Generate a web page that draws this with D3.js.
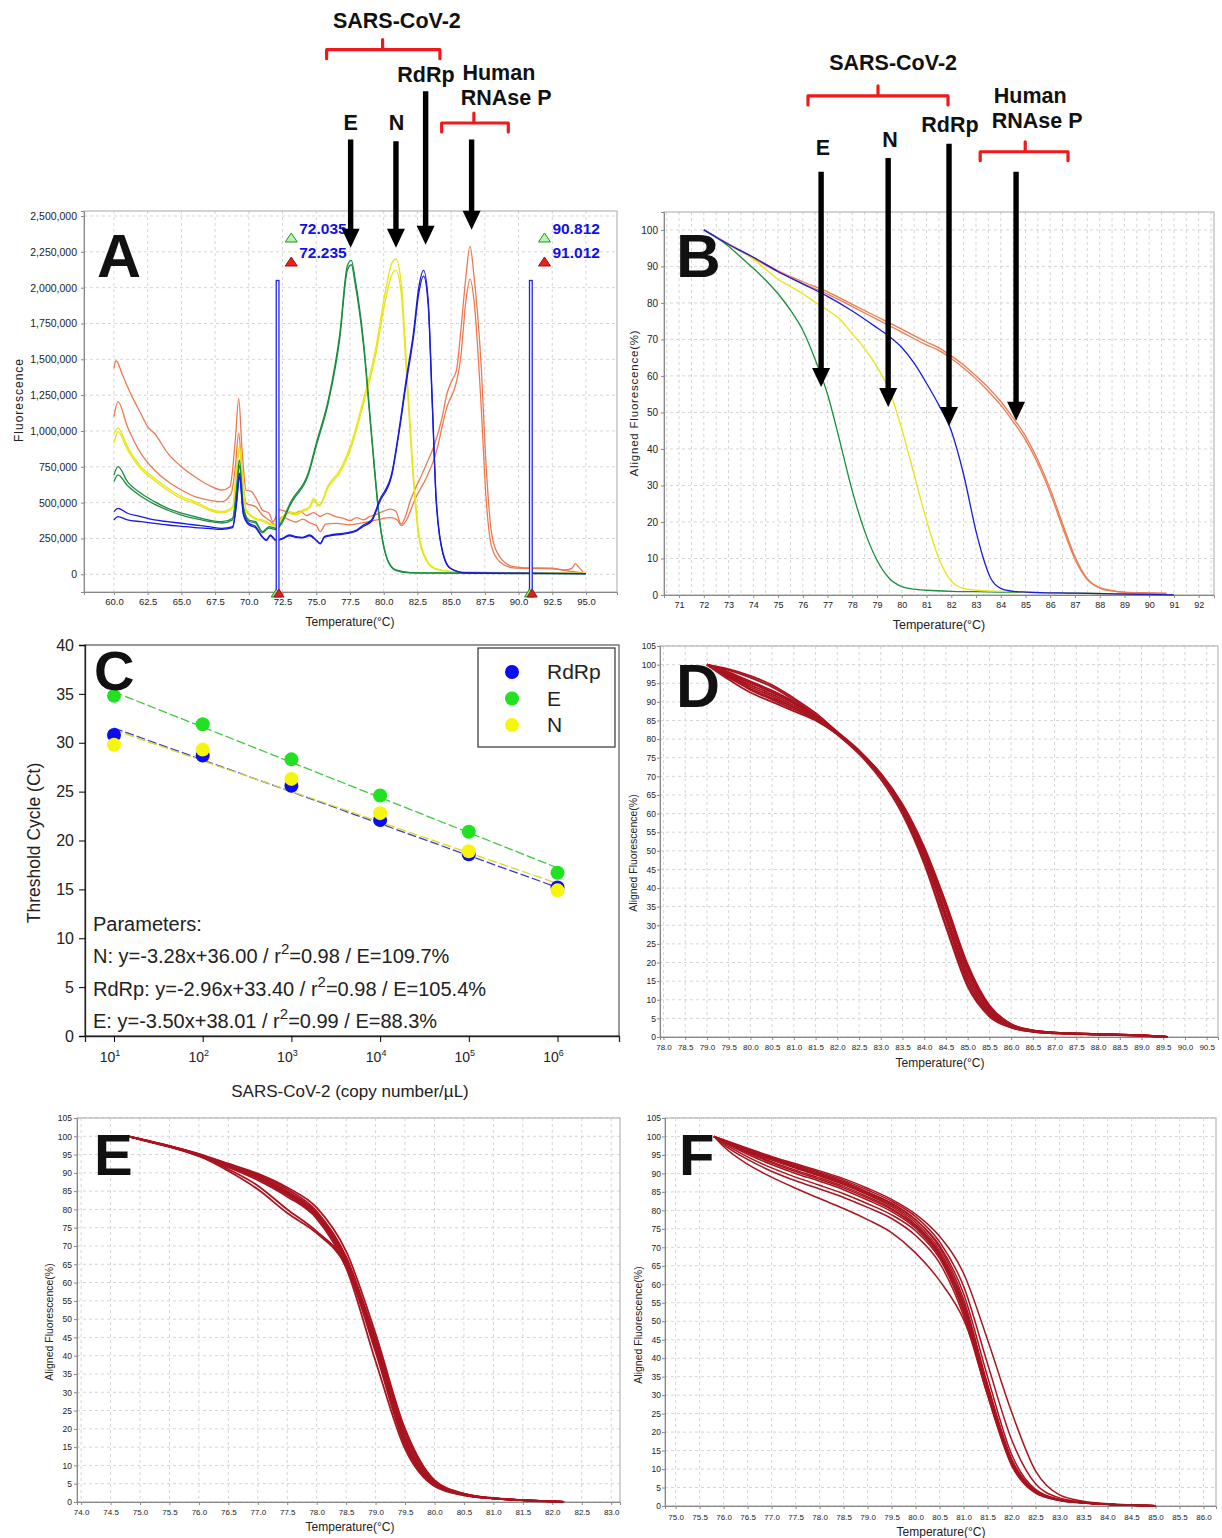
<!DOCTYPE html>
<html>
<head>
<meta charset="utf-8">
<script src="https://cdn.jsdelivr.net/npm/d3@7"></script>
<style>
body { margin: 0; background: #fff; }
text { font-family: "Liberation Sans", Arial, sans-serif; }
.narrow { font-family: "Liberation Sans Narrow", "Arial Narrow", "Liberation Sans", sans-serif; }
</style>
</head>
<body>
<svg id="fig"></svg>
<script>
// ---------- Panel A: melt peaks, [temperature, fluorescence in thousands] ----------
var orangeA1 = [[60,1437],[60.15,1490],[60.6,1400],[61,1310],[61.5,1210],[62,1120],[62.5,1030],[63,984],[64,844],[65,751],[66,681],[67,623],[68,588],[68.6,611],[69,937],[69.25,1228],[69.5,867],[69.8,588],[70.2,577],[70.6,519],[71,449],[71.5,426],[71.8,367],[72.3,449],[72.8,437],[73.3,420],[73.8,440],[74.3,410],[74.8,430],[75.3,405],[75.8,425],[76.5,400],[77,390],[77.5,375],[78,395],[78.5,380],[79,405],[79.5,420],[80,440],[80.5,455],[80.9,440],[81.3,350],[81.6,400],[82,520],[82.3,588],[82.8,690],[83.2,774],[83.8,914],[84.3,1080],[84.7,1263],[85.1,1360],[85.4,1425],[85.7,1680],[86.1,2080],[86.4,2290],[86.7,2080],[87.2,1500],[87.6,751],[88,286],[88.6,123],[89.6,53],[90.5,45],[91.5,45],[92.5,42],[93.5,30],[94,45],[94.2,75],[94.5,45],[94.8,15]]
var orangeA2 = [[60,1100],[60.3,1205],[61,1030],[62,844],[63,728],[64,647],[65,588],[66,542],[67,519],[68,507],[68.7,565],[69,751],[69.25,984],[69.5,705],[69.8,495],[70.5,472],[71,414],[71.5,379],[72,344],[72.5,402],[73,380],[73.5,365],[74,385],[74.5,360],[75,340],[75.3,298],[75.7,350],[76.5,355],[77.5,345],[78.5,360],[79.5,380],[80.5,395],[81,380],[81.3,340],[81.7,380],[82.3,519],[83.2,681],[83.8,821],[84.7,1170],[85.4,1344],[85.7,1500],[86.1,1910],[86.4,2060],[86.7,1910],[87.2,1220],[87.6,519],[88,193],[88.6,88],[89.6,45],[91,40],[92.5,38],[93.5,25],[94.8,10]]
var yellowA1 = [[60,984],[60.3,1020],[61,891],[62,751],[63,670],[64,600],[65,542],[66,507],[67,460],[68,437],[68.8,472],[69.1,751],[69.3,902],[69.5,705],[69.8,449],[70.5,391],[71,379],[71.5,356],[72,344],[72.5,402],[73,437],[73.5,426],[74,449],[74.5,472],[74.8,530],[75.2,484],[75.9,623],[76.75,728],[77.6,914],[78.5,1220],[79.4,1570],[80.1,1960],[80.6,2170],[80.9,2200],[81.3,2030],[81.7,1450],[82.2,705],[82.6,286],[83.2,100],[83.8,42],[85,20],[87,15],[90,10],[95,8]]
var yellowA2 = [[60,914],[60.3,995],[61,870],[62,735],[63,655],[64,585],[65,528],[66,495],[67,450],[68,428],[68.8,460],[69.1,720],[69.3,870],[69.5,690],[69.8,440],[70.5,385],[71,370],[71.5,350],[72,338],[72.5,395],[73,425],[73.5,415],[74,438],[74.5,460],[74.8,515],[75.2,475],[75.9,610],[76.75,710],[77.6,890],[78.5,1190],[79.4,1530],[80.1,1900],[80.6,2090],[80.9,2120],[81.3,1960],[81.7,1380],[82.2,660],[82.6,260],[83.2,90],[83.8,38],[85,18],[87,12],[90,8],[95,6]]
var greenA1 = [[60,693],[60.3,751],[61,647],[62,565],[63,507],[64,460],[65,426],[66,402],[67,379],[68,367],[68.8,391],[69.1,611],[69.3,798],[69.6,472],[70,379],[70.5,367],[71,298],[71.5,333],[72,321],[72.5,379],[73,484],[73.2,519],[74.4,705],[75,914],[75.9,1220],[76.75,1680],[77.3,2150],[77.6,2190],[77.9,2050],[78.5,1630],[79.1,984],[79.7,379],[80.3,100],[80.9,30],[82,12],[84,10],[87,8],[90,6],[95,5]]
var greenA2 = [[60,647],[60.3,693],[61,620],[62,545],[63,490],[64,447],[65,413],[66,390],[67,370],[68,358],[68.8,380],[69.1,580],[69.3,760],[69.6,460],[70,370],[70.5,358],[71,290],[71.5,323],[72,312],[72.5,365],[73,470],[73.2,505],[74.4,690],[75,895],[75.9,1200],[76.75,1650],[77.3,2120],[77.6,2160],[77.9,2020],[78.5,1600],[79.1,960],[79.7,365],[80.3,95],[80.9,28],[82,10],[84,8],[87,6],[90,5],[95,4]]
var blueA1 = [[60,437],[60.3,460],[61,426],[62,402],[63,379],[64,367],[65,356],[66,344],[67,333],[68,321],[68.8,333],[69.1,519],[69.3,705],[69.6,426],[70,356],[70.5,333],[71,263],[71.3,240],[71.6,274],[72,240],[72.5,251],[73,274],[73.5,263],[74,258],[74.5,274],[75,240],[75.3,216],[75.6,263],[76,274],[77,286],[78,309],[78.5,344],[79.1,379],[79.7,519],[80.6,705],[81.1,984],[81.7,1380],[82.2,1680],[82.6,2000],[82.96,2120],[83.3,1910],[83.6,1220],[83.9,519],[84.4,147],[84.95,42],[86,12],[90,8],[95,5]]
var blueA2 = [[60,379],[60.3,402],[61,379],[62,367],[63,355],[64,344],[65,335],[66,326],[67,320],[68,314],[68.8,325],[69.1,500],[69.3,680],[69.6,415],[70,345],[70.5,325],[71,258],[71.3,236],[71.6,268],[72,236],[72.5,247],[73,268],[73.5,258],[74,254],[74.5,268],[75,236],[75.3,212],[75.6,258],[76,268],[77,280],[78,303],[78.5,335],[79.1,370],[79.7,505],[80.6,690],[81.1,965],[81.7,1350],[82.2,1650],[82.6,1960],[82.96,2080],[83.3,1880],[83.6,1190],[83.9,500],[84.4,140],[84.95,40],[86,10],[90,6],[95,4]]
var markersA = [[72.035, 72.235], [90.812, 91.012]]
var markerTopA = 2050

// ---------- Panel B: aligned melt curves, [temperature, %] ----------
var greenB = [[72,100],[72.5,98],[73,95.5],[73.5,92.5],[74,89.5],[74.5,86.2],[75,82.5],[75.5,78],[76,72.5],[76.5,64.5],[77,55],[77.5,42],[78,28.5],[78.5,17.5],[79,9.5],[79.5,4.5],[80,2.3],[80.5,1.6],[81,1.3],[82,1.0],[83,0.9],[84,0.8],[85,0.7],[87,0.5],[89,0.3],[91,0]]
var yellowB = [[72,100],[73,96],[74,92],[75,86.5],[75.5,84.5],[76,82.5],[76.5,80.2],[77,78],[77.5,75.5],[78,71.5],[78.5,67.5],[79,62.5],[79.5,56],[80,45.5],[80.5,33],[81,20.5],[81.5,10],[82,3.8],[82.5,1.8],[83,1.3],[84,1],[85,0.8],[87,0.5],[91,0]]
var blueB = [[72,100],[73,96],[74,92.5],[75,88.6],[76,85.2],[77,81.8],[78,77.8],[79,73.2],[79.5,70.8],[80,67.8],[80.5,63.5],[81,58],[81.5,52],[82,45],[82.5,33],[83,17.5],[83.3,10],[83.6,4.5],[84,1.8],[84.5,1],[85,0.8],[87,0.5],[91,0]]
var orangeB1 = [[72,100],[73,96.2],[74,92.5],[75,88.8],[76,85.8],[77,83],[78,79.6],[79,76.2],[80,72.8],[81,69.3],[81.5,67.7],[82,65.5],[82.5,63],[83,60],[83.5,56.8],[84,53],[84.5,48.5],[85,43.5],[85.5,37],[86,29],[86.5,19.5],[87,10.5],[87.5,4.5],[88,2],[88.5,1.2],[89,0.8],[90,0.6],[90.7,0.5]]
var orangeB2 = [[72,100],[73,96],[74,92.2],[75,88.5],[76,85.3],[77,82.4],[78,79],[79,75.5],[80,72],[81,68.5],[81.5,67],[82,64.8],[82.5,62.2],[83,59.2],[83.5,55.8],[84,52],[84.5,47.5],[85,42.5],[85.5,36],[86,28],[86.5,18.5],[87,9.8],[87.5,4.2],[88,1.9],[88.5,1.1],[89,0.7],[90,0.5],[90.7,0.4]]

// ---------- Panel C: standard curves ----------
var logCopies = [1, 2, 3, 4, 5, 6]
var ctRdRp = [30.8, 28.7, 25.6, 22.1, 18.6, 15.2]
var ctE = [34.8, 31.9, 28.3, 24.6, 20.9, 16.7]
var ctN = [29.8, 29.3, 26.3, 22.8, 18.9, 14.9]
var trendRdRp = [31.5, 15.2]
var trendE = [35.2, 17.2]
var trendN = [31.3, 15.6]
var paramLines = [
  ["N: y=-3.28x+36.00 / r", "=0.98 / E=109.7%"],
  ["RdRp: y=-2.96x+33.40 / r", "=0.98 / E=105.4%"],
  ["E: y=-3.50x+38.01 / r", "=0.99 / E=88.3%"]
]

// ---------- Panel D ----------
var tempD = [79.0, 79.5, 80.0, 80.5, 81.0, 81.5, 82.0, 82.5, 83.0, 83.5, 84.0, 84.5, 85.0, 85.5, 86.0, 86.5, 87.0, 88.0, 89.0, 89.6]
var curvesD = [
  [100, 97.5, 95, 92.5, 89.5, 86, 81.5, 76.5, 70, 61, 48.5, 32, 15.5, 6.5, 2.8, 1.5, 1.1, 0.7, 0.4, 0],
  [100, 98.5, 96.5, 94, 90.5, 86.5, 81.8, 76.5, 70, 60.5, 47, 30, 14, 5.8, 2.6, 1.4, 1.0, 0.7, 0.4, 0],
  [100, 96, 92.5, 90, 87.5, 85, 81.3, 76.5, 70, 61.5, 49.5, 33, 16.5, 7, 3, 1.6, 1.1, 0.7, 0.4, 0],
  [100, 97, 94, 91.5, 88.5, 85.5, 81.5, 76.8, 70.5, 62, 50, 34.5, 18, 7.8, 3.2, 1.7, 1.2, 0.8, 0.4, 0],
  [100, 98, 95.5, 93, 90, 86.2, 81.8, 76.8, 70.8, 62.5, 51, 36, 19.5, 8.5, 3.5, 1.8, 1.2, 0.8, 0.4, 0],
  [100, 97.2, 94.5, 92, 89, 85.8, 81.2, 76, 69.2, 59.8, 46.5, 29.5, 13.5, 5.5, 2.5, 1.4, 1.0, 0.6, 0.3, 0],
  [100, 96.5, 93.5, 91, 88.5, 85.5, 81.5, 76.5, 70.2, 61.5, 49, 33, 17, 7.2, 3, 1.6, 1.1, 0.7, 0.4, 0],
  [100, 98.8, 97, 94.5, 91, 87, 82, 77, 70.5, 62, 50.5, 35, 18.5, 8, 3.3, 1.7, 1.2, 0.8, 0.4, 0],
  [100, 97.8, 95.2, 92.8, 89.8, 86.2, 81.6, 76.6, 70.3, 61.2, 48, 31.5, 15, 6.2, 2.7, 1.5, 1.1, 0.7, 0.4, 0],
  [100, 96.8, 93.2, 90.6, 88, 85.2, 81.4, 76.7, 70.6, 62.2, 50.6, 35.5, 19, 8.2, 3.4, 1.8, 1.2, 0.8, 0.4, 0]
]

// ---------- Panel E ----------
var tempE = [74.8, 75.0, 75.5, 76.0, 76.5, 77.0, 77.5, 78.0, 78.5, 79.0, 79.5, 80.0, 80.5, 81.0, 81.5, 82.2]
var curvesE = [
  [100, 99.2, 97.3, 95, 92, 88.8, 84.5, 78.5, 66, 43, 17, 5, 2, 1, 0.5, 0],
  [100, 99.2, 97.3, 95, 92.2, 89.5, 85.5, 79.5, 67, 44, 18, 5.2, 2.1, 1, 0.5, 0],
  [100, 99.2, 97.2, 94.8, 91.8, 88.5, 84, 78, 65, 41, 15.5, 4.6, 1.9, 1, 0.5, 0],
  [100, 99.3, 97.4, 95.2, 92.5, 89.8, 86, 80.5, 68.5, 46, 20, 6, 2.3, 1.1, 0.5, 0],
  [100, 99.1, 97.1, 94.6, 91.5, 88, 83.5, 77.5, 64, 38.5, 14.5, 4.3, 1.8, 0.9, 0.4, 0],
  [100, 99.2, 97.2, 94.8, 91, 86.5, 80, 74, 65, 43, 17, 5, 2, 1, 0.5, 0],
  [100, 99.2, 97.2, 94.6, 90.5, 85.5, 79, 73.5, 64.5, 42, 16, 4.8, 2, 1, 0.5, 0],
  [100, 99.2, 97.3, 95.1, 92.3, 89.2, 85, 79, 66.8, 44.5, 19, 5.5, 2.2, 1, 0.5, 0],
  [100, 99.2, 97.3, 95, 92.1, 89, 84.8, 79, 66.5, 42, 16.2, 4.8, 2, 1, 0.5, 0],
  [100, 99.2, 97.2, 94.9, 91.9, 88.6, 84.2, 78.2, 65.5, 44.8, 19.5, 5.8, 2.2, 1, 0.5, 0]
]

// ---------- Panel F ----------
var tempF = [75.8, 76.0, 76.5, 77.0, 77.5, 78.0, 78.5, 79.0, 79.5, 80.0, 80.5, 81.0, 81.5, 82.0, 82.5, 83.0, 83.5, 84.0, 85.0]
var curvesF = [
  [100, 99, 96.5, 94.2, 92, 90, 87.8, 85, 82, 77.5, 70, 56, 33, 12.5, 4, 1.7, 0.9, 0.5, 0.1],
  [100, 98.8, 96, 93.6, 91.4, 89.3, 87, 84.2, 81, 76.2, 68.5, 54, 31, 11.5, 3.7, 1.5, 0.8, 0.5, 0.1],
  [100, 98.9, 96.3, 94, 91.8, 89.7, 87.5, 84.8, 81.8, 77.5, 70.5, 57.5, 35, 14, 4.5, 1.8, 0.9, 0.5, 0.1],
  [100, 98.7, 95.8, 93.2, 90.9, 88.8, 86.5, 83.7, 80.5, 75.8, 68, 53, 30, 11, 3.5, 1.5, 0.8, 0.4, 0.1],
  [100, 99.1, 96.8, 94.6, 92.6, 90.7, 88.6, 86, 83, 79, 73, 63, 45, 25.5, 9.5, 3, 1.3, 0.6, 0.1],
  [100, 99, 96.6, 94.4, 92.3, 90.3, 88.2, 85.5, 82.5, 78.3, 71.5, 59.5, 38.5, 18, 6, 2.2, 1.1, 0.5, 0.1],
  [100, 98.2, 94.5, 91.5, 89, 86.8, 84.5, 81.8, 78.8, 74.5, 67, 52.5, 30.5, 11.5, 3.8, 1.6, 0.9, 0.5, 0.1],
  [100, 97.8, 93.8, 90.6, 88, 85.8, 83.5, 80.8, 77.8, 73.2, 65.8, 51.5, 30, 11.5, 3.8, 1.6, 0.9, 0.5, 0.1],
  [100, 97.3, 92.5, 89, 86, 83.2, 80.5, 77.5, 74, 68.5, 61, 50.5, 32, 12.5, 4.2, 1.7, 0.9, 0.5, 0.1],
  [100, 98.5, 95.2, 92.4, 90, 87.9, 85.6, 82.8, 79.7, 75.2, 67.5, 53, 31, 11.8, 3.8, 1.6, 0.9, 0.5, 0.1],
  [100, 98.9, 96.2, 93.8, 91.6, 89.5, 87.2, 84.5, 81.4, 76.8, 69.2, 55, 32, 12, 3.9, 1.6, 0.9, 0.5, 0.1],
  [100, 98.6, 95.6, 92.9, 90.5, 88.4, 86.1, 83.3, 80.2, 75.6, 68.2, 54.5, 32.5, 12.8, 4.1, 1.7, 0.9, 0.5, 0.1]
]

// tick values
var ticksAx = d3.range(60, 95.01, 2.5)
var ticksAy = d3.range(0, 2500.1, 250)
var ticksBx = d3.range(71, 92.1, 1)
var ticksBy = d3.range(0, 100.1, 10)
var ticksDx = d3.range(78, 90.51, 0.5)
var ticksEx = d3.range(74, 83.01, 0.5)
var ticksFx = d3.range(75, 86.01, 0.5)
var ticksMeltY = d3.range(0, 105.1, 5)
var ticksCy = d3.range(0, 40.1, 5)
var ticksCx = [1, 2, 3, 4, 5, 6]

var colors = { orange: "#e97b52", yellow: "#e6e612", green: "#1c8c3e", blue: "#1a1ae0", red: "#a8141f" }

var svg = d3.select("#fig").attr("width", 1222).attr("height", 1538)

// software-style plot frame with dashed grid
function makePlot(cfg) {
  var L = cfg.box[0], T = cfg.box[1], R = cfg.box[2], B = cfg.box[3]
  var g = svg.append("g")
  var x = d3.scaleLinear().domain(cfg.xDom).range([L, R])
  var y = d3.scaleLinear().domain(cfg.yDom).range([B, T])

  g.append("g").selectAll("line").data(cfg.xGrid).join("line")
    .attr("x1", d => x(d)).attr("x2", d => x(d)).attr("y1", T).attr("y2", B)
    .attr("stroke", "#d6d6d6").attr("stroke-dasharray", "3,3")
  g.append("g").selectAll("line").data(cfg.yGrid).join("line")
    .attr("y1", d => y(d)).attr("y2", d => y(d)).attr("x1", L).attr("x2", R)
    .attr("stroke", "#d6d6d6").attr("stroke-dasharray", "3,3")
  g.append("rect").attr("x", L).attr("y", T).attr("width", R - L).attr("height", B - T)
    .attr("fill", "none").attr("stroke", "#a8a8a8")

  var xAxis = g.append("g").attr("transform", `translate(0,${B})`)
    .call(d3.axisBottom(x).tickValues(cfg.xTicks).tickFormat(cfg.xFmt).tickSize(3).tickPadding(cfg.xPad))
  xAxis.select(".domain").attr("stroke", "#888")
  xAxis.selectAll(".tick line").attr("stroke", "#888")
  xAxis.selectAll("text").attr("class", "narrow").style("font-size", cfg.xFont + "px").attr("fill", "#222")

  var yAxis = g.append("g").attr("transform", `translate(${L},0)`)
    .call(d3.axisLeft(y).tickValues(cfg.yTicks).tickFormat(cfg.yFmt).tickSize(3).tickPadding(cfg.yPad))
  yAxis.select(".domain").attr("stroke", "#888")
  yAxis.selectAll(".tick line").attr("stroke", "#888")
  yAxis.selectAll("text").attr("class", cfg.yNarrow ? "narrow" : null).style("font-size", cfg.yFont + "px").attr("fill", "#222")

  g.append("text").attr("class", cfg.xTitleNarrow ? "narrow" : null)
    .attr("x", cfg.xTitle[1]).attr("y", cfg.xTitle[2]).attr("text-anchor", "middle")
    .style("font-size", cfg.xTitle[3] + "px").attr("fill", "#222").text(cfg.xTitle[0])
  g.append("text")
    .attr("transform", `translate(${cfg.yTitle[1]},${cfg.yTitle[2]}) rotate(-90)`)
    .attr("text-anchor", "middle").style("font-size", cfg.yTitle[3] + "px")
    .style("letter-spacing", (cfg.yTitle[4] || 0) + "px").attr("fill", "#222").text(cfg.yTitle[0])

  return { g: g, x: x, y: y }
}

function drawCurve(p, data, color, width) {
  var line = d3.line().x(d => p.x(d[0])).y(d => p.y(d[1])).curve(d3.curveMonotoneX)
  p.g.append("path").datum(data).attr("d", line)
    .attr("fill", "none").attr("stroke", color).attr("stroke-width", width || 1.3)
}

function drawBundle(p, temps, curves, width) {
  curves.forEach(function(vals) {
    drawCurve(p, temps.map((t, i) => [t, vals[i]]), colors.red, width)
  })
}

function arrow(g, px, y0, y1) {
  var head = 19, hw = 9, sw = 2.7
  g.append("path")
    .attr("d", `M${px - sw},${y0}L${px + sw},${y0}L${px + sw},${y1 - head}L${px + hw},${y1 - head}L${px},${y1}L${px - hw},${y1 - head}L${px - sw},${y1 - head}Z`)
    .attr("fill", "#000")
}

function bracket(g, x1, x2, xc, y) {
  g.append("path")
    .attr("d", `M${x1},${y + 9}L${x1},${y}L${x2},${y}L${x2},${y + 9}M${xc},${y}L${xc},${y - 10}`)
    .attr("fill", "none").attr("stroke", "#f01818").attr("stroke-width", 3.2)
    .attr("stroke-linejoin", "round").attr("stroke-linecap", "round")
}

function boldLabel(g, txt, px, py, size, anchor) {
  g.append("text").attr("x", px).attr("y", py).attr("text-anchor", anchor || "middle")
    .style("font-size", size + "px").style("font-weight", "bold").attr("fill", "#111").text(txt)
}

// annotations: arrow x (°C), arrow start and tip (data units); labels; brackets
function annotate(p, arrows, labels, brackets) {
  arrows.forEach(a => arrow(p.g, p.x(a[0]), p.y(a[1]), p.y(a[2])))
  labels.forEach(l => boldLabel(p.g, l[0], p.x(l[1]), p.y(l[2]), 21.5))
  brackets.forEach(b => bracket(p.g, p.x(b[0]), p.x(b[1]), p.x(b[2]), p.y(b[3])))
}

// ================= Panel A =================
var pA = makePlot({
  box: [84, 211, 617, 592], xDom: [57.78, 97.30], yDom: [-123.6, 2535],
  xGrid: ticksAx, yGrid: ticksAy, xTicks: ticksAx, yTicks: ticksAy,
  xFmt: d3.format(".1f"), yFmt: d => d3.format(",")(d * 1000),
  xPad: 3, yPad: 4, xFont: 9.5, yFont: 10.5,
  xTitle: ["Temperature(°C)", 350, 626, 12], xTitleNarrow: false,
  yTitle: ["Fluorescence", 23, 400, 12, 1]
})
;[[orangeA1, "orange"], [orangeA2, "orange"], [yellowA1, "yellow"], [yellowA2, "yellow"],
  [greenA1, "green"], [greenA2, "green"], [blueA1, "blue"], [blueA2, "blue"]]
  .forEach(c => drawCurve(pA, c[0], colors[c[1]], 1.3))

markersA.forEach(function(m) {
  var x1 = pA.x(m[0]), x2 = pA.x(m[1])
  pA.g.append("rect").attr("x", x1).attr("y", pA.y(markerTopA)).attr("width", x2 - x1)
    .attr("height", 592 - pA.y(markerTopA)).attr("fill", "#fff").attr("stroke", "#2424e6").attr("stroke-width", 1.3)
  // axis triangles
  pA.g.append("path").attr("d", `M${x1 - 5},${597}L${x1},${589}L${x1 + 5},${597}Z`).attr("fill", "#8fe08f").attr("stroke", "#1a9a1a")
  pA.g.append("path").attr("d", `M${x2 - 5},${597}L${x2},${589}L${x2 + 5},${597}Z`).attr("fill", "#e02020").attr("stroke", "#a01010")
  // value labels
  var tx = x1 + 15
  pA.g.append("path").attr("d", `M${tx - 6},${242}L${tx},${233}L${tx + 6},${242}Z`).attr("fill", "#b8f0b8").attr("stroke", "#1a9a1a")
  pA.g.append("path").attr("d", `M${tx - 6},${266}L${tx},${257}L${tx + 6},${266}Z`).attr("fill", "#e82020").attr("stroke", "#a01010")
  pA.g.append("text").attr("x", x1 + 23).attr("y", 234).style("font-size", "15.5px").style("font-weight", "bold")
    .attr("fill", "#1010e8").text(m[0].toFixed(3))
  pA.g.append("text").attr("x", x1 + 23).attr("y", 258).style("font-size", "15.5px").style("font-weight", "bold")
    .attr("fill", "#1010e8").text(m[1].toFixed(3))
})

annotate(pA,
  [[77.55, 3034, 2279], [80.91, 3022, 2279], [83.11, 3370, 2300], [86.52, 3034, 2405]],
  [["SARS-CoV-2", 80.98, 3815], ["E", 77.55, 3103], ["N", 80.95, 3103], ["RdRp", 83.13, 3438],
   ["Human", 88.54, 3452], ["RNAse P", 89.08, 3277]],
  [[75.77, 84.17, 79.92, 3661], [84.3, 89.24, 86.69, 3149]])
boldLabel(pA.g, "A", 97, 277, 61, "start")

// ================= Panel B =================
var pB = makePlot({
  box: [664, 212, 1214, 595], xDom: [70.39, 92.62], yDom: [0, 104.9],
  xGrid: d3.range(70.5, 92.51, 0.5), yGrid: ticksBy, xTicks: ticksBx, yTicks: ticksBy,
  xFmt: d3.format("d"), yFmt: d3.format("d"),
  xPad: 4, yPad: 3, xFont: 9, yFont: 10, yNarrow: true,
  xTitle: ["Temperature(°C)", 939, 629, 12.5], xTitleNarrow: true,
  yTitle: ["Aligned Fluorescence(%)", 638, 403, 11.5, 0.8]
})
;[[orangeB1, "orange"], [orangeB2, "orange"], [greenB, "green"], [yellowB, "yellow"], [blueB, "blue"]]
  .forEach(c => drawCurve(pB, c[0], colors[c[1]], 1.3))

annotate(pB,
  [[76.74, 115.9, 57.0], [79.45, 119.7, 51.5], [81.91, 123.6, 46.3], [84.62, 115.9, 47.7]],
  [["SARS-CoV-2", 79.65, 143.8], ["E", 76.81, 120.5], ["N", 79.53, 122.7], ["RdRp", 81.95, 126.8],
   ["Human", 85.19, 134.8], ["RNAse P", 85.47, 128]],
  [[76.21, 81.87, 79.04, 136.7], [83.17, 86.72, 84.99, 121.4]])
boldLabel(pB.g, "B", 676, 277, 62, "start")

// ================= Panel C =================
var gC = svg.append("g")
var xC = d3.scaleLinear().domain([0.673, 6.693]).range([85, 619])
var yC = d3.scaleLinear().domain([0, 40]).range([1036, 645])

gC.append("rect").attr("x", 85).attr("y", 645).attr("width", 534).attr("height", 391)
  .attr("fill", "none").attr("stroke", "#555").attr("stroke-width", 1.2)
var axCy = gC.append("g").attr("transform", "translate(85,0)")
  .call(d3.axisLeft(yC).tickValues(ticksCy).tickSize(6).tickPadding(5))
axCy.select(".domain").attr("stroke", "#222").attr("stroke-width", 1.3)
axCy.selectAll("text").style("font-size", "16px").attr("fill", "#222")
var axCx = gC.append("g").attr("transform", "translate(0,1036)")
  .call(d3.axisBottom(xC).tickValues(ticksCx).tickSize(6).tickFormat(""))
axCx.select(".domain").attr("stroke", "#222").attr("stroke-width", 1.3)
var xl = gC.append("g").selectAll("text").data(ticksCx).join("text")
  .attr("x", d => xC(d) - 4).attr("y", 1062).attr("text-anchor", "middle")
  .style("font-size", "14px").attr("fill", "#222")
xl.append("tspan").text("10")
xl.append("tspan").attr("dy", -6).style("font-size", "9px").text(d => d)

gC.append("text").attr("x", 350).attr("y", 1097).attr("text-anchor", "middle")
  .style("font-size", "17px").attr("fill", "#222").text("SARS-CoV-2 (copy number/µL)")
gC.append("text").attr("transform", "translate(40,843) rotate(-90)").attr("text-anchor", "middle")
  .style("font-size", "17.5px").attr("fill", "#222").text("Threshold Cycle (Ct)")

var seriesC = [
  { name: "RdRp", ct: ctRdRp, trend: trendRdRp, fill: "#0c0cf0", dash: "#3a3ad0" },
  { name: "E", ct: ctE, trend: trendE, fill: "#22e022", dash: "#40c840" },
  { name: "N", ct: ctN, trend: trendN, fill: "#f6f60c", dash: "#d8d820" }
]
seriesC.forEach(function(s) {
  gC.append("line").attr("x1", xC(logCopies[0])).attr("y1", yC(s.trend[0]))
    .attr("x2", xC(logCopies[logCopies.length - 1])).attr("y2", yC(s.trend[1]))
    .attr("stroke", s.dash).attr("stroke-width", 1.3).attr("stroke-dasharray", "9,3")
})
seriesC.forEach(function(s) {
  gC.append("g").selectAll("circle").data(logCopies).join("circle")
    .attr("cx", d => xC(d)).attr("cy", (d, i) => yC(s.ct[i])).attr("r", 7).attr("fill", s.fill)
})

// legend
gC.append("rect").attr("x", 478).attr("y", 648).attr("width", 137).attr("height", 99)
  .attr("fill", "#fff").attr("stroke", "#333").attr("stroke-width", 1.2)
seriesC.forEach(function(s, i) {
  gC.append("circle").attr("cx", 512).attr("cy", 672 + i * 26.5).attr("r", 7).attr("fill", s.fill)
  gC.append("text").attr("x", 547).attr("y", 679 + i * 26.5).style("font-size", "21px").attr("fill", "#222").text(s.name)
})

// parameters
gC.append("text").attr("x", 93).attr("y", 931).style("font-size", "20px").attr("fill", "#222").text("Parameters:")
paramLines.forEach(function(p, i) {
  var t = gC.append("text").attr("x", 93).attr("y", 963 + i * 32.5).style("font-size", "20px").attr("fill", "#222")
  t.append("tspan").text(p[0])
  t.append("tspan").attr("dy", -9).style("font-size", "15px").text("2")
  t.append("tspan").attr("dy", 9).text(p[1])
})
boldLabel(gC, "C", 94, 690, 56, "start")

// ================= Panel D =================
var pD = makePlot({
  box: [660, 646, 1218, 1037], xDom: [77.92, 90.76], yDom: [0, 105],
  xGrid: ticksDx, yGrid: ticksMeltY, xTicks: ticksDx, yTicks: ticksMeltY,
  xFmt: d3.format(".1f"), yFmt: d3.format("d"),
  xPad: 4, yPad: 1, xFont: 8, yFont: 8.5, yNarrow: true,
  xTitle: ["Temperature(°C)", 940, 1067, 12], xTitleNarrow: true,
  yTitle: ["Aligned Fluorescence(%)", 637, 853, 10.5, 0]
})
drawBundle(pD, tempD, curvesD, 1.8)
boldLabel(pD.g, "D", 676, 707, 61, "start")

// ================= Panel E =================
var pE = makePlot({
  box: [77, 1118, 620, 1502], xDom: [73.93, 83.15], yDom: [0, 105],
  xGrid: ticksEx, yGrid: ticksMeltY, xTicks: ticksEx, yTicks: ticksMeltY,
  xFmt: d3.format(".1f"), yFmt: d3.format("d"),
  xPad: 4, yPad: 2, xFont: 8, yFont: 8.5, yNarrow: true,
  xTitle: ["Temperature(°C)", 350, 1531, 12], xTitleNarrow: true,
  yTitle: ["Aligned Fluorescence(%)", 53, 1322, 10.5, 0]
})
drawBundle(pE, tempE, curvesE, 1.8)
boldLabel(pE.g, "E", 94, 1175, 58, "start")

// ================= Panel F =================
var pF = makePlot({
  box: [665, 1118, 1216, 1506], xDom: [74.78, 86.26], yDom: [0, 105],
  xGrid: ticksFx, yGrid: ticksMeltY, xTicks: ticksFx, yTicks: ticksMeltY,
  xFmt: d3.format(".1f"), yFmt: d3.format("d"),
  xPad: 5, yPad: 1, xFont: 8, yFont: 8.5, yNarrow: true,
  xTitle: ["Temperature(°C)", 941, 1536, 12], xTitleNarrow: true,
  yTitle: ["Aligned Fluorescence(%)", 642, 1325, 10.5, 0]
})
drawBundle(pF, tempF, curvesF, 1.5)
boldLabel(pF.g, "F", 679, 1175, 58, "start")
</script>
</body>
</html>
